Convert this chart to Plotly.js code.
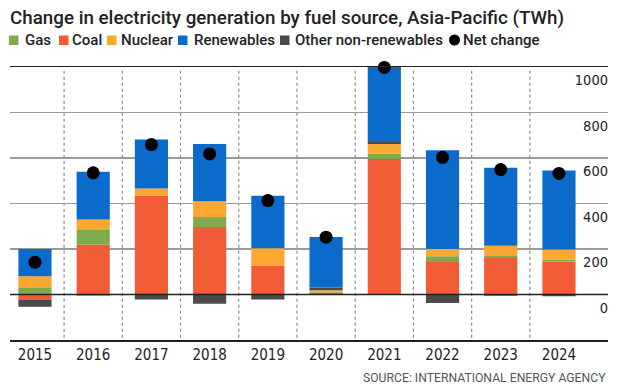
<!DOCTYPE html>
<html>
<head>
<meta charset="utf-8">
<script src="https://cdn.plot.ly/plotly-3.0.1.min.js"></script>
<style>html,body{margin:0;padding:0;background:#fff;}</style>
</head>
<body>
<div id="chart" style="width:620px;height:392px;"></div>
<script>
// ---- Data (TWh change) ----
var years      = [2015, 2016, 2017, 2018, 2019, 2020, 2021, 2022, 2023, 2024];
var gas        = [32, 63, 0, 44, 0, 4, 23, 25, 12, 9];
var coal       = [-22, 220, 435, 297, 127, 9, 596, 143, 160, 145];
var nuclear    = [48, 47, 31, 69, 76, 6, 42, 32, 42, 44];
var otherNonRenewables = [-32, -4, -22, -41, -22, 12, 9, -37, -5, -8];
var renewables = [120, 210, 215, 252, 231, 222, 330, 434, 343, 347];
var netChange  = [142, 535, 659, 618, 413, 252, 998, 603, 549, 532];
var yTicks     = [0, 200, 400, 600, 800, 1000];
var yTickText  = ['0', '200', '400', '600', '800', '1000'];

var colors = {
  'Gas': '#7eab4b',
  'Coal': '#f15c37',
  'Nuclear': '#fca732',
  'Renewables': '#0a6bcb',
  'Other non-renewables': '#4a4a4a',
  'Net change': '#000000'
};

var tickFontFamily = 'DejaVu Sans Condensed, DejaVu Sans, sans-serif';
var textFontFamily = 'Roboto, sans-serif';

function barTrace(name, values) {
  return {
    type: 'bar', name: name, x: years, y: values, width: 0.57,
    marker: {color: colors[name], line: {width: 0}},
    hoverinfo: 'x+y+name'
  };
}

// stacking order bottom-up: coal, gas, nuclear, other, renewables
var traces = [
  barTrace('Coal', coal),
  barTrace('Gas', gas),
  barTrace('Nuclear', nuclear),
  barTrace('Other non-renewables', otherNonRenewables),
  barTrace('Renewables', renewables),
  {
    type: 'scatter', mode: 'markers', name: 'Net change', x: years, y: netChange,
    marker: {color: '#000', size: 13}, cliponaxis: false
  }
];

// plot-area geometry helpers for the (non-data) legend decorations
var L = 10, R = 608, T = 67, B = 340;
function px(x) { return (x - L) / (R - L); }
function py(y) { return (B - y) / (B - T); }

var shapes = [];
// dotted separators between years
for (var i = 0; i < years.length - 1; i++) {
  var mid = (years[i] + years[i + 1]) / 2;
  shapes.push({
    type: 'line', xref: 'x', yref: 'paper', x0: mid, x1: mid, y0: 0.008, y1: 0.99,
    line: {color: '#8a8a8a', width: 1.2, dash: 'dot'}, layer: 'below'
  });
}
// zero line drawn above bars
shapes.push({
  type: 'line', xref: 'paper', yref: 'y', x0: 0, x1: 1, y0: 0, y1: 0,
  line: {color: '#222', width: 1.6}, layer: 'above'
});

// custom legend (compact, like the reference)
var legendItems = [
  {name: 'Gas', sq: [9, 18.5], tx: 23},
  {name: 'Coal', sq: [59, 68.5], tx: 70},
  {name: 'Nuclear', sq: [107, 116.5], tx: 119},
  {name: 'Renewables', sq: [178, 187.5], tx: 192},
  {name: 'Other non-renewables', sq: [280, 289.5], tx: 293},
  {name: 'Net change', sq: [449, 460], tx: 461, circle: true}
];
var annotations = [];
legendItems.forEach(function (it) {
  if (it.circle) {
    shapes.push({type: 'circle', xref: 'paper', yref: 'paper',
      x0: px(it.sq[0]), x1: px(it.sq[1]), y0: py(45.5), y1: py(34.5),
      fillcolor: colors[it.name], line: {width: 0}});
  } else {
    shapes.push({type: 'rect', xref: 'paper', yref: 'paper',
      x0: px(it.sq[0]), x1: px(it.sq[1]), y0: py(45), y1: py(35.5),
      fillcolor: colors[it.name], line: {width: 0}});
  }
  annotations.push({
    xref: 'paper', yref: 'paper', x: px(it.tx), y: py(40.5),
    xanchor: 'left', yanchor: 'middle', showarrow: false, text: it.name,
    font: {family: textFontFamily, size: 15, weight: 500, color: '#222'}
  });
});
annotations.push({
  xref: 'paper', yref: 'paper', x: 1, y: py(378), xanchor: 'right', yanchor: 'middle',
  showarrow: false, text: 'SOURCE: INTERNATIONAL ENERGY AGENCY',
  font: {family: textFontFamily, size: 12.2, color: '#555'}
});

var layout = {
  width: 620, height: 392,
  margin: {l: L, r: 620 - R, t: T, b: 392 - B, pad: 0},
  paper_bgcolor: '#fff', plot_bgcolor: '#fff',
  showlegend: false,
  barmode: 'relative',
  title: {
    text: 'Change in electricity generation by fuel source, Asia-Pacific (TWh)',
    font: {family: textFontFamily, size: 18.8, weight: 500, color: '#222'},
    xref: 'container', x: 10 / 620, xanchor: 'left',
    yref: 'container', y: 1 - 17 / 392, yanchor: 'middle',
    pad: {l: 0, r: 0, t: 0, b: 0}
  },
  xaxis: {
    type: 'linear', range: [2014.571, 2024.842],
    tickvals: years, ticktext: years.map(String),
    showgrid: false, zeroline: false,
    showline: true, mirror: true, linecolor: '#222', linewidth: 1.5,
    ticks: '', tickfont: {family: tickFontFamily, size: 15, color: '#222'},
    fixedrange: true
  },
  yaxis: {
    range: [-200, 1000], tickvals: yTicks, ticktext: yTickText,
    side: 'right', ticklabelposition: 'inside', ticklabeloverflow: 'allow',
    ticklabelshift: 13, ticklabelstandoff: -3,
    showgrid: true, gridcolor: '#9b9b9b', gridwidth: 1.3,
    zeroline: false, showline: false, ticks: '',
    tickfont: {family: tickFontFamily, size: 14.5, color: '#222'},
    fixedrange: true
  },
  shapes: shapes,
  annotations: annotations
};

Plotly.newPlot('chart', traces, layout, {displayModeBar: false, staticPlot: true});
</script>
</body>
</html>
